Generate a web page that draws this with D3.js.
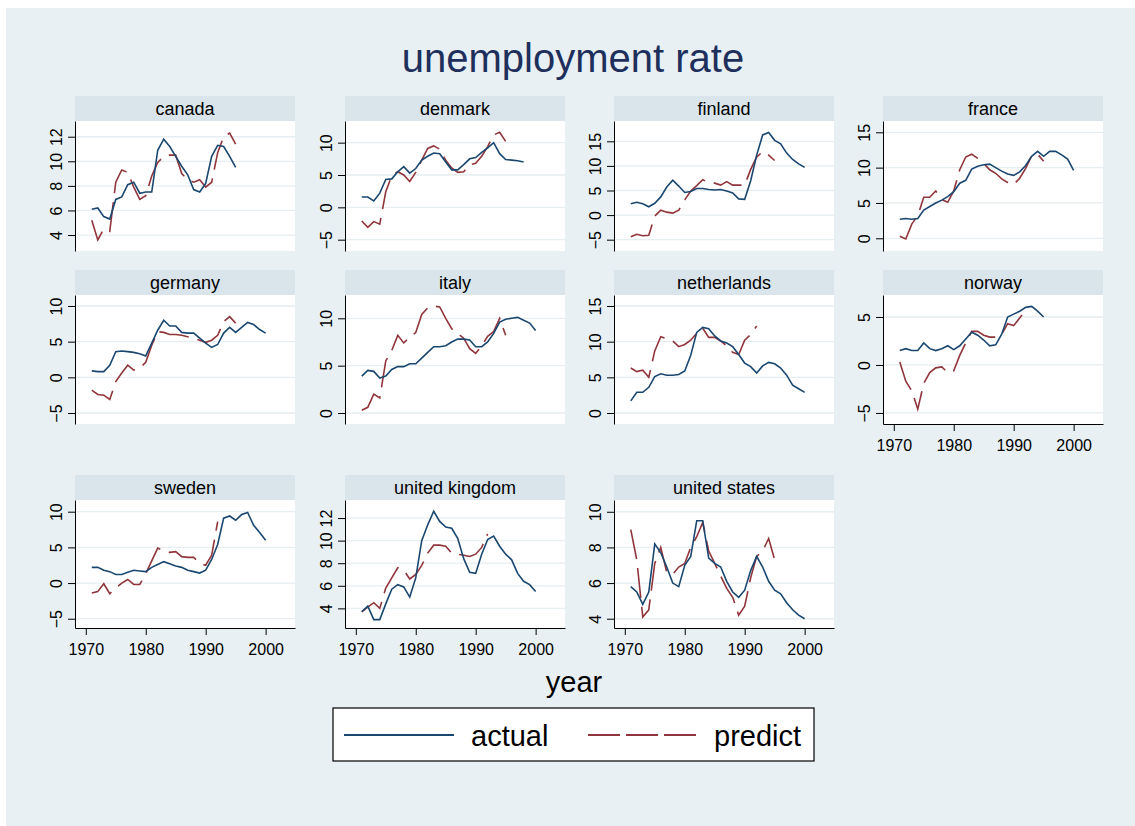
<!DOCTYPE html>
<html>
<head>
<meta charset="utf-8">
<script src="https://cdn.jsdelivr.net/npm/d3@7"></script>
<style>
  body { margin: 0; background: #fff; }
  svg { display: block; font-family: "Liberation Sans", Arial, Helvetica, sans-serif; }
</style>
</head>
<body>
<div id="chart"></div>
<script>
// years on the x axis
const years = [1971,1972,1973,1974,1975,1976,1977,1978,1979,1980,
               1981,1982,1983,1984,1985,1986,1987,1988,1989,1990,
               1991,1992,1993,1994,1995,1996,1997,1998,1999,2000];
const xTicks = [1970, 1980, 1990, 2000];
const xRange = [1968.2, 2004.9];

const countries = ["canada","denmark","finland","france","germany","italy",
                   "netherlands","norway","sweden","united kingdom","united states"];

// actual unemployment rate, null = no data
const canadaActual = [6.1,6.2,5.5,5.3,6.9,7.1,8.1,8.3,7.4,7.5,7.5,10.9,11.8,11.2,10.4,9.6,8.9,7.7,7.5,8.2,10.4,11.3,11.2,10.4,9.5,null,null,null,null,null];
const denmarkActual = [1.6,1.6,1.0,2.2,4.3,4.4,5.5,6.3,5.3,6.0,7.3,7.9,8.4,8.3,7.0,5.8,5.8,6.6,7.5,7.7,8.5,9.2,10.0,8.3,7.4,7.3,7.2,7.0,null,null];
const finlandActual = [2.3,2.6,2.3,1.7,2.4,3.7,5.7,7.1,5.9,4.6,4.8,5.4,5.4,5.2,5.1,5.2,4.9,4.5,3.3,3.2,7.0,12.2,16.3,16.8,15.2,14.5,12.6,11.3,10.4,9.7];
const franceActual = [2.7,2.8,2.7,2.8,4.0,4.5,5.0,5.4,5.9,6.6,7.8,8.2,9.8,10.2,10.4,10.5,10.0,9.5,9.1,8.9,9.4,10.3,11.6,12.3,11.6,12.3,12.3,11.8,11.2,9.6];
const germanyActual = [0.9,0.8,0.8,1.7,3.6,3.7,3.6,3.5,3.3,3.0,4.8,6.6,8.0,7.2,7.2,6.3,6.2,6.2,5.5,4.8,4.2,4.6,6.2,7.0,6.3,7.0,7.7,7.4,6.7,6.2];
const italyActual = [3.9,4.5,4.4,3.7,3.9,4.6,4.9,4.9,5.2,5.2,5.8,6.4,7.0,7.0,7.1,7.5,7.8,7.8,7.7,7.0,7.0,7.5,8.4,9.6,9.9,10.0,10.1,9.8,9.5,8.7];
const netherlandsActual = [1.7,2.9,2.9,3.6,5.1,5.5,5.3,5.3,5.4,5.9,8.1,11.3,12.0,11.8,10.8,10.1,9.8,9.3,8.2,7.0,6.5,5.6,6.6,7.1,6.9,6.3,5.3,3.9,3.4,2.9];
const norwayActual = [1.5,1.7,1.5,1.5,2.3,1.7,1.5,1.7,2.0,1.6,2.0,2.7,3.4,3.1,2.6,2.0,2.1,3.2,5.0,5.3,5.6,6.0,6.1,5.6,5.0,null,null,null,null,null];
const swedenActual = [2.2,2.2,1.8,1.6,1.2,1.2,1.5,1.8,1.7,1.6,2.2,2.6,3.0,2.7,2.4,2.2,1.8,1.6,1.4,1.8,3.3,5.4,9.1,9.4,8.8,9.6,9.9,8.1,7.1,6.0];
const ukActual = [3.7,4.2,3.0,3.0,4.4,5.7,6.1,5.9,5.0,6.7,10.0,11.4,12.6,11.7,11.2,11.1,10.2,8.4,7.2,7.1,8.8,10.1,10.4,9.5,8.8,8.3,7.1,6.4,6.1,5.5];
const usActual = [5.8,5.5,4.8,5.5,8.2,7.7,6.9,6.0,5.8,7.0,7.5,9.5,9.5,7.4,7.1,6.9,6.1,5.5,5.2,5.6,6.7,7.5,6.9,6.1,5.6,5.4,4.9,4.5,4.2,4.0];

// predicted values
const canadaPredict = [5.2,3.6,4.5,4.3,8.3,9.3,9.1,7.9,6.9,7.2,8.8,9.9,10.4,10.5,10.5,9.0,8.5,8.3,8.5,7.9,8.3,10.7,12.0,12.3,11.4,null,null,null,null,null];
const denmarkPredict = [-2.1,-3.1,-2.2,-2.6,2.4,4.9,5.5,5.0,4.0,5.4,7.3,9.1,9.5,9.0,7.3,6.1,5.4,5.5,6.6,6.8,7.9,9.4,11.2,11.6,10.2,null,null,null,null,null];
const finlandPredict = [-4.4,-3.9,-4.2,-4.1,-0.2,1.0,0.6,0.4,1.0,3.1,4.9,6.0,7.2,6.6,6.5,6.1,6.8,6.1,6.1,6.1,9.3,11.8,12.9,12.2,11.1,null,null,null,null,null];
const francePredict = [0.3,-0.1,2.0,3.2,5.8,5.8,6.7,5.5,5.1,6.7,9.7,11.5,11.9,11.3,10.6,9.7,9.2,8.4,7.9,7.6,8.5,9.9,11.7,11.9,10.9,null,null,null,null,null];
const germanyPredict = [-1.8,-2.4,-2.5,-3.1,-0.6,0.6,1.7,1.0,1.3,2.1,4.5,6.4,6.3,6.0,6.0,5.9,5.7,5.5,5.2,4.9,5.2,5.9,7.8,8.5,7.6,null,null,null,null,null];
const italyPredict = [0.3,0.6,2.0,1.6,5.5,6.6,8.2,7.4,8.0,8.5,10.4,11.1,11.3,11.2,10.0,8.9,8.4,7.9,6.8,6.3,7.1,8.1,8.6,10.0,8.2,null,null,null,null,null];
const netherlandsPredict = [6.3,5.8,6.0,5.0,8.7,10.7,10.4,10.1,9.3,9.6,10.2,11.2,11.9,10.6,10.6,10.1,9.4,8.5,8.2,10.2,11.0,12.2,null,null,null,null,null,null,null,null];
const norwayPredict = [0.3,-1.7,-2.7,-4.6,-1.9,-0.8,-0.3,-0.2,-0.8,-0.6,1.0,2.3,3.5,3.5,3.1,2.9,2.9,3.2,4.3,4.1,4.9,5.7,null,null,null,null,null,null,null,null];
const swedenPredict = [-1.4,-1.2,-0.1,-1.5,-0.7,0.0,0.5,-0.2,-0.2,1.3,3.1,4.9,4.5,4.3,4.4,3.7,3.6,3.6,2.8,2.5,3.9,8.6,null,null,null,null,null,null,null,null];
const ukPredict = [3.7,4.1,4.5,4.0,5.8,6.7,7.6,7.4,6.6,7.0,7.8,8.9,9.6,9.6,9.5,8.9,8.8,8.7,8.6,8.8,9.4,10.6,null,null,null,null,null,null,null,null];
const usPredict = [9.0,7.3,4.1,4.5,7.1,8.0,6.6,6.5,6.9,7.1,8.0,8.6,9.4,7.8,7.1,6.4,5.7,5.2,4.2,4.7,6.3,7.5,7.8,8.5,7.3,null,null,null,null,null];

// y tick labels of each panel
const canadaTicks = [4,6,8,10,12];
const denmarkTicks = [-5,0,5,10];
const finlandTicks = [-5,0,5,10,15];
const franceTicks = [0,5,10,15];
const germanyTicks = [-5,0,5,10];
const italyTicks = [0,5,10];
const netherlandsTicks = [0,5,10,15];
const norwayTicks = [-5,0,5];
const swedenTicks = [-5,0,5,10];
const ukTicks = [4,6,8,10,12];
const usTicks = [4,6,8,10];

// y axis range of each panel
const canadaRange = [2.7, 13.28];
const denmarkRange = [-6.75, 13.35];
const finlandRange = [-7.3, 19.13];
const franceRange = [-1.8, 16.6];
const germanyRange = [-6.54, 11.54];
const italyRange = [-1.16, 12.46];
const netherlandsRange = [-1.54, 16.54];
const norwayRange = [-6.15, 7.29];
const swedenRange = [-6.3, 11.64];
const ukRange = [2.26, 13.6];
const usRange = [3.48, 10.66];

const actuals = [canadaActual, denmarkActual, finlandActual, franceActual, germanyActual, italyActual,
                 netherlandsActual, norwayActual, swedenActual, ukActual, usActual];
const predicts = [canadaPredict, denmarkPredict, finlandPredict, francePredict, germanyPredict, italyPredict,
                  netherlandsPredict, norwayPredict, swedenPredict, ukPredict, usPredict];
const tickSets = [canadaTicks, denmarkTicks, finlandTicks, franceTicks, germanyTicks, italyTicks,
                  netherlandsTicks, norwayTicks, swedenTicks, ukTicks, usTicks];
const ranges = [canadaRange, denmarkRange, finlandRange, franceRange, germanyRange, italyRange,
                netherlandsRange, norwayRange, swedenRange, ukRange, usRange];

const panels = countries.map((c, i) => ({
  name: c,
  actual: years.map((yr, j) => ({ year: yr, v: actuals[i][j] })),
  predict: years.map((yr, j) => ({ year: yr, v: predicts[i][j] })),
  ticks: tickSets[i],
  range: ranges[i],
  xAxis: (i >= 7)   // norway and the bottom row carry the year axis
}));

// layout
const W = 1135, H = 826;
const colX = [75, 345, 614, 883];
const rowTop = [96, 270, 475];
const plotH = [130, 129, 128];
const panelW = 220, stripH = 25;
const navy = "#1a476f", maroon = "#90353b";

const svg = d3.select("#chart").append("svg")
  .attr("width", W)
  .attr("height", H);

svg.append("rect")
  .attr("x", 6).attr("y", 8)
  .attr("width", W - 6).attr("height", H - 8)
  .attr("fill", "#e8f0f3");

svg.append("text")
  .attr("x", 573).attr("y", 72)
  .attr("text-anchor", "middle")
  .style("font-size", "40px")
  .attr("fill", "#1e2f5c")
  .text("unemployment rate");

panels.forEach((p, i) => {
  const col = i % 4, row = Math.floor(i / 4);
  const x0 = colX[col];
  const top = rowTop[row] + stripH;
  const bottom = top + plotH[row];

  const x = d3.scaleLinear().domain(xRange).range([x0, x0 + panelW]);
  const y = d3.scaleLinear().domain(p.range).range([bottom, top]);

  // strip with country name
  svg.append("rect")
    .attr("x", x0).attr("y", rowTop[row])
    .attr("width", panelW).attr("height", stripH)
    .attr("fill", "#d9e5eb");
  svg.append("text")
    .attr("x", x0 + panelW / 2).attr("y", rowTop[row] + 19)
    .attr("text-anchor", "middle")
    .style("font-size", "18px")
    .attr("fill", "#000")
    .text(p.name);

  // plot region
  svg.append("rect")
    .attr("x", x0).attr("y", top)
    .attr("width", panelW).attr("height", bottom - top)
    .attr("fill", "#fff");

  // grid
  svg.append("g").selectAll("line")
    .data(p.ticks)
    .enter().append("line")
    .attr("x1", x0).attr("x2", x0 + panelW)
    .attr("y1", d => y(d)).attr("y2", d => y(d))
    .attr("stroke", "#e6eef1")
    .attr("stroke-width", 1.3);

  const line = d3.line()
    .defined(d => d.v !== null)
    .x(d => x(d.year))
    .y(d => y(d.v));

  svg.append("path")
    .datum(p.predict)
    .attr("d", line)
    .attr("fill", "none")
    .attr("stroke", maroon)
    .attr("stroke-width", 1.6)
    .attr("stroke-dasharray", "30,9");

  svg.append("path")
    .datum(p.actual)
    .attr("d", line)
    .attr("fill", "none")
    .attr("stroke", navy)
    .attr("stroke-width", 1.6);

  // y axis with rotated labels
  const ya = svg.append("g")
    .attr("transform", "translate(" + x0 + ",0)")
    .call(d3.axisLeft(y).tickValues(p.ticks).tickSize(7).tickSizeOuter(0));
  ya.attr("font-family", null).attr("font-size", null);
  ya.select(".domain").attr("stroke", "#000");
  ya.selectAll(".tick line").attr("stroke", "#000");
  ya.selectAll(".tick text")
    .attr("x", 0).attr("y", 0).attr("dy", null)
    .attr("transform", "translate(-13,0) rotate(-90)")
    .attr("text-anchor", "middle")
    .attr("fill", "#000")
    .style("font-size", "16px");

  if (p.xAxis) {
    const xa = svg.append("g")
      .attr("transform", "translate(0," + bottom + ")")
      .call(d3.axisBottom(x).tickValues(xTicks).tickFormat(d3.format("d"))
        .tickSize(7).tickSizeOuter(0).tickPadding(9));
    xa.attr("font-family", null).attr("font-size", null);
    xa.select(".domain").attr("stroke", "#000");
    xa.selectAll(".tick line").attr("stroke", "#000");
    xa.selectAll(".tick text")
      .attr("fill", "#000")
      .style("font-size", "16px");
  }
});

// x axis title
svg.append("text")
  .attr("x", 574).attr("y", 692)
  .attr("text-anchor", "middle")
  .style("font-size", "29px")
  .attr("fill", "#000")
  .text("year");

// legend
const legend = svg.append("g");
legend.append("rect")
  .attr("x", 333).attr("y", 708)
  .attr("width", 481).attr("height", 53)
  .attr("fill", "#fff")
  .attr("stroke", "#000")
  .attr("stroke-width", 1.2);
legend.append("line")
  .attr("x1", 344).attr("x2", 454).attr("y1", 735).attr("y2", 735)
  .attr("stroke", navy).attr("stroke-width", 2.2);
legend.append("text")
  .attr("x", 471).attr("y", 746)
  .style("font-size", "29px")
  .attr("fill", "#000")
  .text("actual");
legend.append("line")
  .attr("x1", 588).attr("x2", 696).attr("y1", 735).attr("y2", 735)
  .attr("stroke", maroon).attr("stroke-width", 2.2)
  .attr("stroke-dasharray", "32,6");
legend.append("text")
  .attr("x", 714).attr("y", 746)
  .style("font-size", "29px")
  .attr("fill", "#000")
  .text("predict");
</script>
</body>
</html>
